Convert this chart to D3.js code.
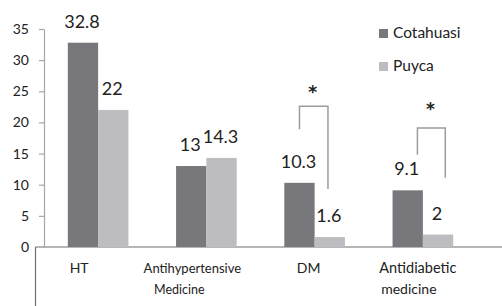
<!DOCTYPE html>
<html><head><meta charset="utf-8">
<script src="https://cdn.jsdelivr.net/npm/d3@7"></script>
<style>
html,body{margin:0;padding:0;background:#fff;}
svg{display:block;font-family:Lato, "Open Sans", sans-serif;}
</style></head>
<body>
<svg id="c" width="502" height="306"></svg>
<script>
const categories = ["HT", "Antihypertensive|Medicine", "DM", "Antidiabetic|medicine"];
const seriesNames = ["Cotahuasi", "Puyca"];
const cotahuasi = [32.8, 13, 10.3, 9.1];
const puyca = [22, 14.3, 1.6, 2];
const yTicks = [0, 5, 10, 15, 20, 25, 30, 35];
// significance brackets: category index, top value, left-end value, right-end value
const brackets = [
  {cat: 2, top: 22.6, left: 18.9, right: 9.3},
  {cat: 3, top: 19.1, left: 14.8, right: 11.1}
];

const colors = ["#78787c", "#bdbdc1"];
const svg = d3.select("#c");

const y = d3.scaleLinear().domain([0, 35]).range([247, 29]);
const x0 = d3.scaleBand().domain(categories).range([44, 477]).paddingInner(0.44).paddingOuter(0.22);
const x1 = d3.scaleBand().domain(seriesNames).range([0, x0.bandwidth()]);

// x axis line and left border
svg.append("line").attr("x1", 35.5).attr("x2", 502).attr("y1", y(0)).attr("y2", y(0))
  .attr("stroke", "#6e6e6e").attr("stroke-width", 1.2);
svg.append("line").attr("x1", 35.5).attr("x2", 35.5).attr("y1", y(0)).attr("y2", 306)
  .attr("stroke", "#6e6e6e").attr("stroke-width", 1.2);

// y axis
const yAxis = d3.axisLeft(y).tickValues(yTicks).tickSize(5).tickPadding(10).tickSizeOuter(0);
const gy = svg.append("g").attr("transform", "translate(44,0)").call(yAxis);
gy.select(".domain").attr("stroke", "#a6a6a6").attr("stroke-width", 1.2);
gy.selectAll(".tick line").attr("stroke", "#a6a6a6").attr("stroke-width", 1.2);
gy.selectAll(".tick text").attr("font-size", 14).attr("fill", "#222").attr("font-family", "Lato");
gy.selectAll(".tick").filter(d => d === 0).select("line").remove();

// bars
const data = categories.map((c, i) => ({cat: c, vals: [cotahuasi[i], puyca[i]]}));
const groups = svg.selectAll("g.grp").data(data).enter().append("g")
  .attr("class", "grp").attr("transform", d => `translate(${x0(d.cat)},0)`);
groups.selectAll("rect").data(d => d.vals.map((v, j) => ({s: seriesNames[j], v, j})))
  .enter().append("rect")
  .attr("x", d => x1(d.s)).attr("width", x1.bandwidth())
  .attr("y", d => y(d.v)).attr("height", d => y(0) - y(d.v))
  .attr("fill", d => colors[d.j]);
groups.selectAll("text.val").data(d => d.vals.map((v, j) => ({s: seriesNames[j], v, j})))
  .enter().append("text").attr("class", "val")
  .attr("x", d => x1(d.s) + x1.bandwidth() / 2 - 1)
  .attr("y", d => y(d.v) - 15)
  .attr("text-anchor", "middle").attr("font-size", 18).attr("fill", "#222")
  .text(d => d.v);

// category labels
const labelShift = [-19, -14, -6, -5];
const line1Size = [14, 13, 14, 14.5];
const line2Shift = [0, -13, 0, -9];
const line2Size = [13, 12.5, 13, 14];
categories.forEach((c, i) => {
  const parts = c.split("|");
  const cx = x0(c) + x0.bandwidth() / 2 + labelShift[i];
  svg.append("text").attr("x", cx).attr("y", 273).attr("text-anchor", "middle")
    .attr("font-size", line1Size[i]).attr("fill", "#222").text(parts[0]);
  if (parts[1]) {
    svg.append("text").attr("x", cx + line2Shift[i]).attr("y", 294).attr("text-anchor", "middle")
      .attr("font-size", line2Size[i]).attr("fill", "#222").text(parts[1]);
  }
});

// legend
seriesNames.forEach((s, i) => {
  const ly = 29 + i * 33;
  svg.append("rect").attr("x", 379).attr("y", ly).attr("width", 9).attr("height", 9).attr("fill", colors[i]);
  svg.append("text").attr("x", 393).attr("y", ly + 9).attr("font-size", 15.5).attr("fill", "#222").text(s);
});

// significance brackets
const starGap = [18, 23];
brackets.forEach((b, k) => {
  const c = categories[b.cat];
  const xl = b.cat === 2 ? x0(c) + x0.bandwidth() * 0.25 : x0(c) + x0.bandwidth() * 0.41;
  const xr = b.cat === 2 ? x0(c) + x0.bandwidth() * 0.72 : x0(c) + x0.bandwidth() * 0.87;
  const path = d3.path();
  path.moveTo(xl, y(b.left)); path.lineTo(xl, y(b.top)); path.lineTo(xr, y(b.top)); path.lineTo(xr, y(b.right));
  svg.append("path").attr("d", path.toString()).attr("fill", "none")
    .attr("stroke", "#9c9c9c").attr("stroke-width", 1.5);
  svg.append("text").attr("x", (xl + xr) / 2 - 1).attr("y", y(b.top) - starGap[k] + 10)
    .attr("text-anchor", "middle").attr("font-size", 17).attr("font-weight", "bold")
    .attr("font-family", "DejaVu Sans").attr("fill", "#222").text("*");
});
</script>
</body></html>
